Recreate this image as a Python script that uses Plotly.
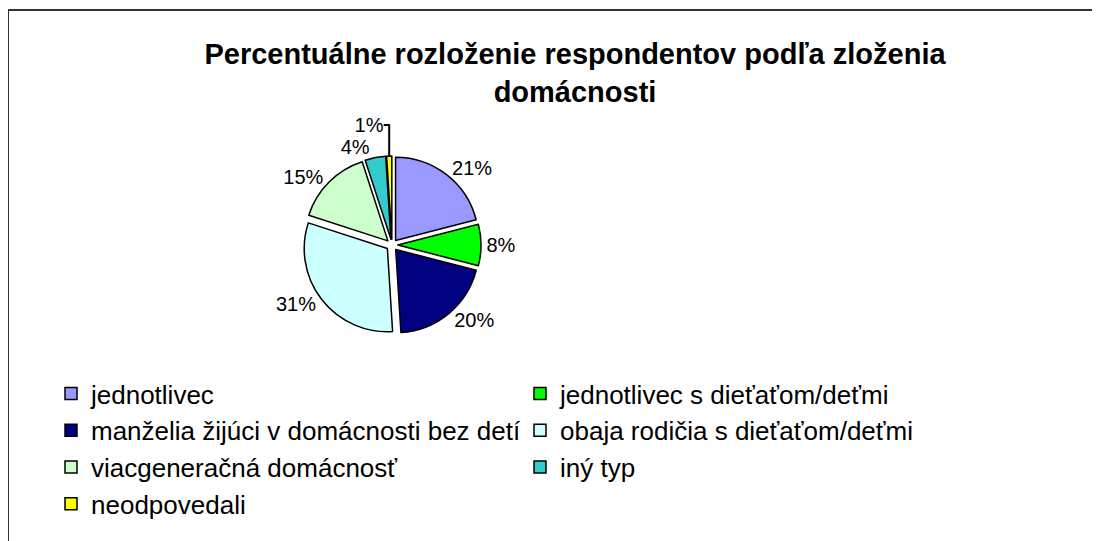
import plotly.graph_objects as go

categories = [
    "jednotlivec",
    "jednotlivec s dieťaťom/deťmi",
    "manželia žijúci v domácnosti bez detí",
    "obaja rodičia s dieťaťom/deťmi",
    "viacgeneračná domácnosť",
    "iný typ",
    "neodpovedali",
]
values = [21, 8, 20, 31, 15, 4, 1]
colors = ["#9999FF", "#00FF00", "#000080", "#CCFFFF", "#CCFFCC", "#33CCCC", "#FFFF00"]
title_text = "Percentuálne rozloženie respondentov podľa zloženia<br>domácnosti"

# page has an 8px body margin, so the figure is 8px smaller than the window
W, H = 1092, 533


def px_x(x):
    return x / W


def px_y(y):
    return 1 - y / H


fig = go.Figure()
fig.add_trace(go.Pie(
    labels=categories,
    values=values,
    sort=False,
    direction="clockwise",
    rotation=0,
    pull=[0.07] * len(values),
    marker=dict(colors=colors, line=dict(color="#000000", width=1.5)),
    textinfo="percent",
    texttemplate="%{percent:.0%}",
    textposition="outside",
    textfont=dict(family="Liberation Sans, Arial", size=20, color="#000000"),
    domain=dict(x=[px_x(234), px_x(534)], y=[px_y(326), px_y(148)]),
    showlegend=True,
    hoverinfo="label+percent",
))

fig.update_layout(
    width=W,
    height=H,
    margin=dict(l=0, r=0, t=0, b=0),
    paper_bgcolor="#FFFFFF",
    plot_bgcolor="#FFFFFF",
    font=dict(family="Liberation Sans, Arial", color="#000000"),
    title=dict(
        text=title_text,
        x=px_x(567),
        xanchor="center",
        y=px_y(56),
        yanchor="top",
        font=dict(family="Liberation Sans, Arial", size=29, color="#000000", weight="bold"),
    ),
    legend=dict(
        orientation="h",
        x=px_x(43),
        xanchor="left",
        y=px_y(362),
        yanchor="top",
        entrywidth=424,
        entrywidthmode="pixels",
        font=dict(family="Liberation Sans, Arial", size=26, color="#000000"),
        itemwidth=30,
        tracegroupgap=0,
    ),
    shapes=[
        dict(type="line", xref="paper", yref="paper", x0=0, x1=1.0, y0=px_y(2), y1=px_y(2),
             line=dict(color="#333333", width=2)),
        dict(type="line", xref="paper", yref="paper", x0=0, x1=0, y0=0, y1=px_y(2),
             line=dict(color="#333333", width=2)),
    ],
)

fig.write_html("out.html")
